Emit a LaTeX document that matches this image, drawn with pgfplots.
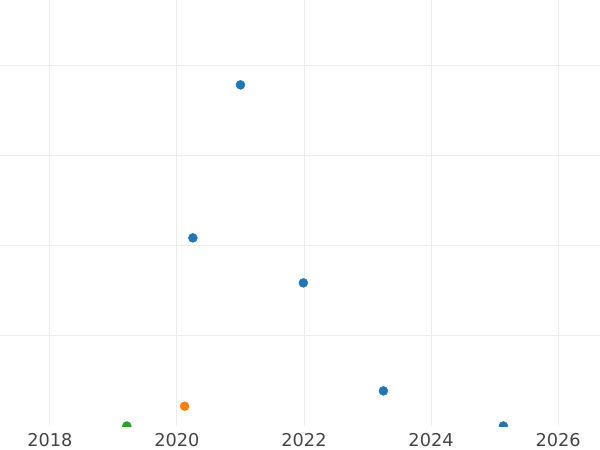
\documentclass[border=0pt]{standalone}
\usepackage{pgfplots}
\pgfplotsset{compat=1.18}
\usepackage{fontspec}
\setmainfont{DejaVu Sans}
\definecolor{c1}{HTML}{1F77B4}
\definecolor{c2}{HTML}{FF7F0E}
\definecolor{c3}{HTML}{2CA02C}
\definecolor{gridc}{HTML}{EDEDED}
\definecolor{tickc}{HTML}{444444}
\begin{document}
\begin{tikzpicture}
\begin{axis}[
  scale only axis, width=600pt, height=426pt,
  at={(0,0)}, anchor=south west,
  xmin=2017.213, xmax=2026.661, ymin=0, ymax=4.733,
  axis line style={draw=none},
  major tick length=0pt,
  xtick={2018,2020,2022,2024,2026},
  ytick={1,2,3,4}, yticklabels={},
  grid=major, grid style={gridc, line width=1pt},
  /pgf/number format/1000 sep={},
  /pgf/number format/assume math mode=true,
  xticklabel style={font=\fontsize{17.7}{20}\selectfont, text=tickc, anchor=north, inner sep=0pt, yshift=-7pt},
  clip=true, clip marker paths=true,
]
\addplot[only marks, mark=*, mark size=4.5pt, color=c1, mark options={draw=c1, fill=c1}] coordinates {
 (2021.00,3.79) (2020.25,2.09) (2021.99,1.59) (2023.25,0.39) (2025.14,0)
};
\addplot[only marks, mark=*, mark size=4.5pt, color=c2, mark options={draw=c2, fill=c2}] coordinates {
 (2020.12,0.22)
};
\addplot[only marks, mark=*, mark size=4.5pt, color=c3, mark options={draw=c3, fill=c3}] coordinates {
 (2019.21,0)
};
\end{axis}
\pgfresetboundingbox
\path[use as bounding box] (0,-24pt) rectangle (600pt,426pt);
\end{tikzpicture}
\end{document}
